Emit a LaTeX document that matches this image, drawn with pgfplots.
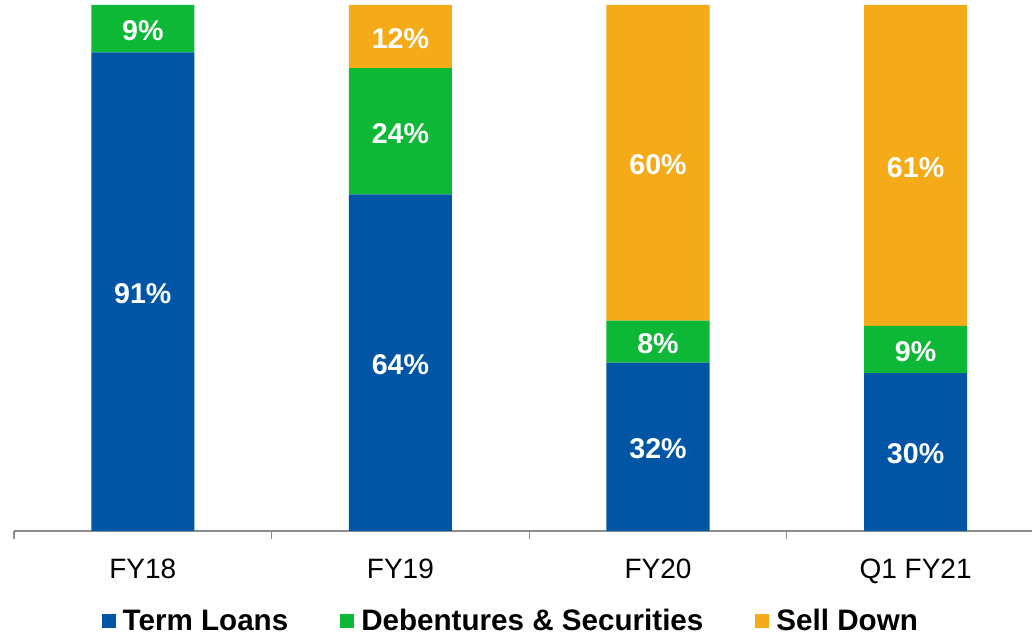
\documentclass[border=0pt]{standalone}
\usepackage{pgfplots}
\pgfplotsset{compat=1.18}
\usepackage{fontspec}
\setmainfont{Liberation Sans}
\definecolor{tlblue}{HTML}{0055A5}
\definecolor{dsgreen}{HTML}{0DB836}
\definecolor{sdorange}{HTML}{F5AB17}
\definecolor{axgray}{HTML}{8C8C8C}
\begin{document}
\begin{tikzpicture}
\begin{axis}[
  scale only axis, width=509pt, height=263pt,
  xmin=-0.5, xmax=3.452, ymin=0, ymax=100,
  ybar stacked, bar width=0.4,
  axis x line=bottom, axis y line=none,
  axis line style={draw=axgray, line width=0.6pt, -},
  xtick={0,1,2,3}, xticklabels={FY18,FY19,FY20,Q1 FY21},
  major x tick style={draw=none},
  minor xtick={-0.5,0.5,1.5,2.5},
  minor x tick style={draw=axgray, line width=0.6pt},
  minor tick length=4pt, tick align=outside,
  xticklabel style={font=\fontsize{14}{16}\selectfont, yshift=-6pt},
  point meta=explicit symbolic,
  nodes near coords={\pgfplotspointmeta},
  every node near coord/.append style={font=\bfseries\fontsize{14.3}{16}\selectfont, text=white, anchor=center, yshift=-1pt},
  legend columns=3,
  legend style={draw=none, at={(0.489,-0.172)}, anchor=center, font=\bfseries\fontsize{14.8}{16}\selectfont, /tikz/every even column/.append style={column sep=24pt}},
  legend image code/.code={\fill[#1] (0pt,-3.5pt) rectangle (7pt,3.5pt);},
  legend cell align=left,
]
\addplot[fill=tlblue, draw=none] coordinates {(0,91) [91\%] (1,64) [64\%] (2,32) [32\%] (3,30) [30\%]};
\addplot[fill=dsgreen, draw=none] coordinates {(0,9) [9\%] (1,24) [24\%] (2,8) [8\%] (3,9) [9\%]};
\addplot[fill=sdorange, draw=none] coordinates {(0,0) [] (1,12) [12\%] (2,60) [60\%] (3,61) [61\%]};
\legend{\hspace{1.5pt}Term Loans, \hspace{1.5pt}Debentures \& Securities, \hspace{1.5pt}Sell Down}
\coordinate (bl) at (rel axis cs:0,0);
\coordinate (tr) at (rel axis cs:1,1);
\end{axis}
\pgfresetboundingbox
\path (bl) ++(-7pt,-52pt) rectangle ([yshift=2.5pt]tr);
\end{tikzpicture}
\end{document}
